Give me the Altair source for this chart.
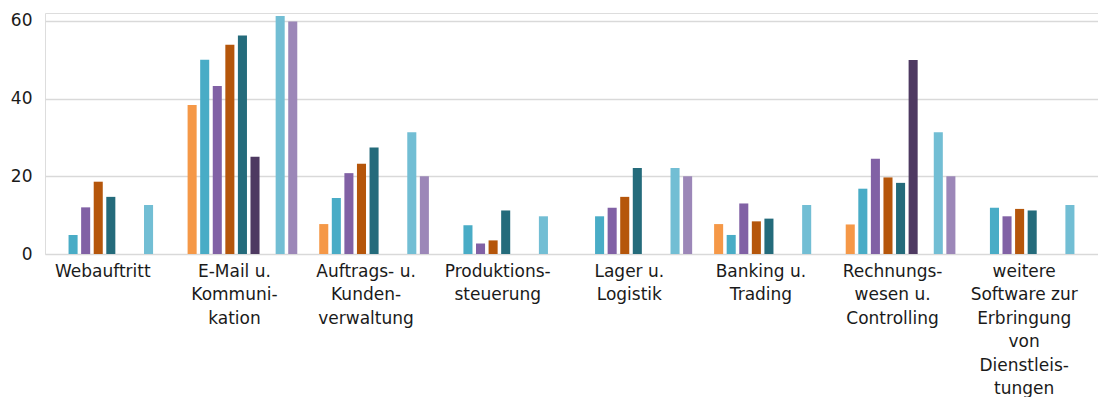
import altair as alt
import pandas as pd

categories = [
    "Webauftritt",
    "E-Mail u.|Kommuni-|kation",
    "Auftrags- u.|Kunden-|verwaltung",
    "Produktions-|steuerung",
    "Lager u.|Logistik",
    "Banking u.|Trading",
    "Rechnungs-|wesen u.|Controlling",
    "weitere|Software zur|Erbringung|von|Dienstleis-|tungen",
]

series = ["S1", "S2", "S3", "S4", "S5", "S6", "S7", "S8", "S9"]
colors = ["#F59847", "#49ACC6", "#8161A5", "#B5560B", "#246B7B", "#4E3961", "#ffffff", "#72BED4", "#9C87B8"]

# values per series, one per category (None = no bar)
s1 = [None, 38.3, 7.7, None, None, 7.7, 7.6, None]
s2 = [4.9, 50.0, 14.4, 7.4, 9.7, 4.9, 16.8, 11.9]
s3 = [12.0, 43.2, 20.8, 2.7, 11.9, 13.0, 24.5, 9.7]
s4 = [18.6, 53.8, 23.2, 3.5, 14.7, 8.4, 19.7, 11.6]
s5 = [14.7, 56.2, 27.4, 11.2, 22.1, 9.1, 18.3, 11.2]
s6 = [None, 25.0, None, None, None, None, 49.9, None]
s7 = [None, None, None, None, None, None, None, None]
s8 = [12.6, 61.2, 31.3, 9.7, 22.1, 12.6, 31.3, 12.6]
s9 = [None, 59.8, 20.0, None, 20.0, None, 20.0, None]

all_values = [s1, s2, s3, s4, s5, s6, s7, s8, s9]
rows = []
for name, vals in zip(series, all_values):
    for cat, v in zip(categories, vals):
        if v is not None:
            rows.append({"Kategorie": cat, "Reihe": name, "Wert": v})
df = pd.DataFrame(rows)

font = "DejaVu Sans"

chart = alt.Chart(df).mark_bar().encode(
    x=alt.X(
        "Kategorie:N",
        sort=categories,
        scale=alt.Scale(domain=categories, paddingInner=0.14, paddingOuter=0.07),
        axis=alt.Axis(
            title=None,
            labelAngle=0,
            labelExpr="split(datum.label, '|')",
            labelFont=font,
            labelFontSize=17,
            labelColor="#1a1a1a",
            labelLineHeight=23.5,
            labelPadding=9,
            labelLimit=300,
            labelOffset=-8,
            ticks=False,
            domain=False,
            labelBaseline="top",
        ),
    ),
    xOffset=alt.XOffset(
        "Reihe:N",
        scale=alt.Scale(domain=series, paddingInner=0.28, paddingOuter=0.14),
    ),
    y=alt.Y(
        "Wert:Q",
        scale=alt.Scale(domain=[0, 62], nice=False),
        axis=alt.Axis(
            title=None,
            values=[0, 20, 40, 60],
            labelFont=font,
            labelFontSize=17,
            labelColor="#1a1a1a",
            labelPadding=13,
            ticks=False,
            domain=False,
            gridColor="#d9d9d9",
            gridWidth=1.5,
        ),
    ),
    color=alt.Color(
        "Reihe:N",
        scale=alt.Scale(domain=series, range=colors),
        legend=None,
    ),
).properties(
    width=1053,
    height=241,
    autosize=alt.AutoSizeParams(type="none"),
    padding={"left": 45, "top": 13, "right": 0, "bottom": 143},
).configure_view(stroke=None).configure(background="white")

chart.save("out.html", embed_options={"renderer": "svg", "actions": False})
